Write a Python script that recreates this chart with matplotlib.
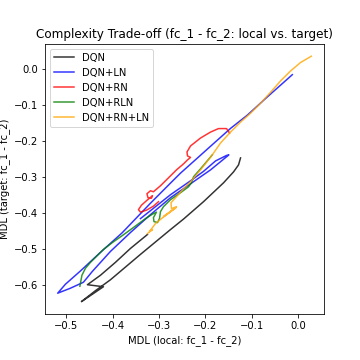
import numpy as np
import matplotlib
matplotlib.use('Agg')
import matplotlib.pyplot as plt

# trajectories (x = local MDL, y = target MDL)
dqn_x = [-0.3248, -0.3614, -0.3938, -0.4261, -0.4541, -0.4196, -0.4670, -0.4369,
         -0.4045, -0.3399, -0.2752, -0.2472, -0.2041, -0.1610, -0.1394, -0.1287, -0.1244]
dqn_y = [-0.4592, -0.4978, -0.5364, -0.5722, -0.5983, -0.6039, -0.6452, -0.6149,
         -0.5846, -0.5143, -0.4455, -0.4165, -0.3683, -0.3160, -0.2857, -0.2664, -0.2471]

ln_x = [-0.0129, -0.0668, -0.1099, -0.1459, -0.1819, -0.2177, -0.2537, -0.2752,
        -0.3183, -0.3793, -0.4261, -0.4692, -0.5015, -0.5181,
        -0.4907, -0.4627, -0.4433, -0.4045, -0.3614, -0.3183, -0.2752, -0.2321,
        -0.1890, -0.1496,
        -0.1545, -0.1782, -0.2041, -0.2321, -0.2752, -0.3075, -0.3399]
ln_y = [-0.0165, -0.0782, -0.1287, -0.1653, -0.2066, -0.2479, -0.2893, -0.3168,
        -0.3725, -0.4545, -0.5088, -0.5603, -0.5970, -0.6218,
        -0.6080, -0.5915, -0.5612, -0.5061, -0.4537, -0.4041, -0.3573, -0.3187,
        -0.2802, -0.2388,
        -0.2402, -0.2554, -0.2843, -0.3105, -0.3490, -0.3821, -0.4152]

rn_x = [-0.1481, -0.1545, -0.1718, -0.1890, -0.2106, -0.2321, -0.2397, -0.2386,
        -0.2321, -0.2386, -0.2472, -0.2623, -0.2795, -0.2968, -0.3119, -0.3183,
        -0.3259, -0.3237, -0.3162, -0.3140, -0.3269, -0.3377, -0.3442, -0.3399,
        -0.3269, -0.3119, -0.3011]
rn_y = [-0.1782, -0.1658, -0.1658, -0.1755, -0.1920, -0.2140, -0.2306, -0.2416,
        -0.2457, -0.2526, -0.2636, -0.2802, -0.3022, -0.3242, -0.3408, -0.3380,
        -0.3463, -0.3573, -0.3587, -0.3518, -0.3656, -0.3780, -0.3904, -0.3972,
        -0.3917, -0.3807, -0.3683]

rln_x = [-0.4703, -0.4659, -0.4584, -0.4476, -0.4196, -0.4002, -0.3787, -0.3550,
         -0.3291, -0.3140, -0.3054, -0.3119, -0.3108, -0.3032, -0.2989, -0.2968,
         -0.2903, -0.2752, -0.2537, -0.2364, -0.2300, -0.2256, -0.2106, -0.1853]
rln_y = [-0.6025, -0.5722, -0.5529, -0.5364, -0.5006, -0.4813, -0.4620, -0.4399,
         -0.4152, -0.4028, -0.3972, -0.4124, -0.4234, -0.4262, -0.4152, -0.3959,
         -0.3821, -0.3628, -0.3435, -0.3270, -0.3160, -0.2994, -0.2774, -0.2388]

rnln_x = [-0.3248, -0.3140, -0.3205, -0.3075, -0.2946, -0.2795, -0.2634, -0.2903,
          -0.2752, -0.2623, -0.2731, -0.2741, -0.2623, -0.2472, -0.2321, -0.2106,
          -0.1853, -0.1675, -0.1459, -0.1244, -0.1028, -0.0813, -0.0597, -0.0381,
          -0.0166, 0.0050, 0.0280]
rnln_y = [-0.4565, -0.4455, -0.4510, -0.4289, -0.4152, -0.4000, -0.3848, -0.4096,
          -0.3959, -0.3821, -0.3876, -0.3711, -0.3545, -0.3325, -0.3132, -0.2802,
          -0.2388, -0.2058, -0.1755, -0.1479, -0.1231, -0.0956, -0.0653, -0.0336,
          -0.0061, 0.0174, 0.0347]

fig, ax = plt.subplots(figsize=(5, 5), dpi=72)
fig.subplots_adjust(left=0.125, right=0.9, top=0.878, bottom=0.128)

ax.plot(dqn_x, dqn_y, color='k', alpha=0.8, label='DQN')
ax.plot(ln_x, ln_y, color='b', alpha=0.8, label='DQN+LN')
ax.plot(rn_x, rn_y, color='r', alpha=0.8, label='DQN+RN')
ax.plot(rln_x, rln_y, color='g', alpha=0.8, label='DQN+RLN')
ax.plot(rnln_x, rnln_y, color='orange', alpha=0.8, label='DQN+RN+LN')

ax.set_xlabel('MDL (local: fc_1 - fc_2)')
ax.set_ylabel('MDL (target: fc_1 - fc_2)')
ax.set_title('Complexity Trade-off (fc_1 - fc_2: local vs. target)')
ax.legend(loc='upper left')

fig.savefig('out.png', dpi=72)
